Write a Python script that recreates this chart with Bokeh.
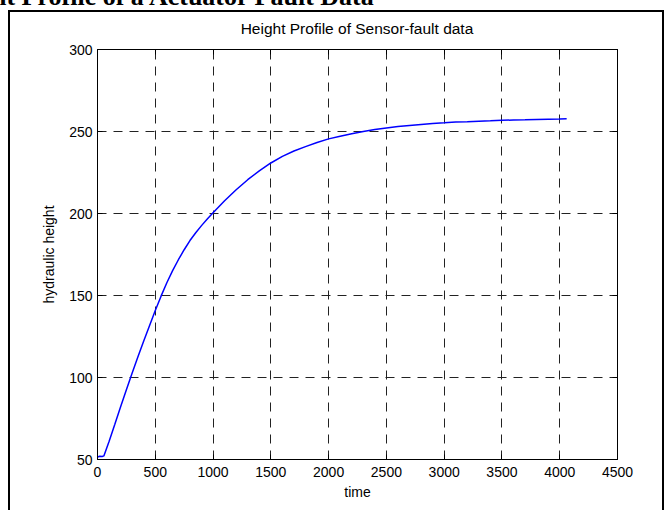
from bokeh.plotting import figure
from bokeh.models import (FixedTicker, LinearAxis, Range1d, Grid,
                          InlineStyleSheet, Div)
from bokeh.layouts import column
from bokeh.embed import file_html
from bokeh.resources import INLINE

# ---- data ----
time = [0, 20, 40, 55, 100, 150, 200, 250, 300, 350, 400, 450, 500, 550, 600,
        650, 700, 750, 800, 850, 900, 950, 1000, 1100, 1200, 1300, 1400, 1500,
        1600, 1700, 1800, 1900, 2000, 2100, 2200, 2300, 2400, 2500, 2600, 2700,
        2800, 2900, 3000, 3100, 3200, 3300, 3400, 3500, 3600, 3700, 3800, 3900,
        4000, 4060]
height = [51.5, 52.0, 51.8, 52.2, 61.0, 71.5, 82.2, 92.6, 102.8, 112.6, 122.2,
          131.6, 140.8, 149.6, 157.8, 165.2, 171.8, 177.9, 183.5, 188.3, 192.6,
          196.7, 200.5, 207.8, 214.5, 220.6, 226.0, 230.8, 234.8, 238.1, 240.8,
          243.3, 245.5, 247.1, 248.6, 250.0, 251.2, 252.2, 253.0, 253.7, 254.3,
          254.9, 255.3, 255.8, 256.0, 256.3, 256.5, 256.8, 257.0, 257.1, 257.3,
          257.5, 257.6, 257.7]
x_ticks = [0, 500, 1000, 1500, 2000, 2500, 3000, 3500, 4000, 4500]
y_ticks = [50, 100, 150, 200, 250, 300]

title_text = "Height Profile of Sensor-fault data"
header_text = "Height Profile of a Actuator Fault Data"
x_label = "time"
y_label = "hydraulic height"

W, H = 671, 510
FONT = "Liberation Sans"

# figure-window frame drawn around the axes (left, top, right sides)
css = """
:host::after {
  content: "";
  position: absolute;
  box-sizing: border-box;
  left: 8px; top: 10px; width: 656px; height: 500px;
  border: 2px solid black;
  border-bottom: none;
  pointer-events: none;
}
"""

p = figure(width=W, height=H, output_backend="svg", toolbar_location=None,
           x_range=Range1d(0, 4500), y_range=Range1d(50, 300),
           min_border_left=97, min_border_right=54, min_border_top=49,
           min_border_bottom=51,
           background_fill_color="white", border_fill_color="white",
           stylesheets=[InlineStyleSheet(css=css)])
p.xaxis.visible = False
p.yaxis.visible = False
p.outline_line_color = "black"
p.outline_line_width = 1

def style_axis(ax, labels=True):
    ax.major_tick_in = 5
    ax.major_tick_out = 0
    ax.minor_tick_in = 0
    ax.minor_tick_out = 0
    ax.axis_line_color = "black"
    ax.major_tick_line_color = "black"
    ax.major_label_text_font = FONT
    ax.major_label_text_font_size = "14px" if labels else "0px"
    ax.major_label_text_color = "black" if labels else None
    ax.axis_label_text_font = FONT
    ax.axis_label_text_font_size = "14px"
    ax.axis_label_text_font_style = "normal"
    ax.axis_label_text_color = "black"
    if not labels:
        ax.major_label_standoff = 0

xb = LinearAxis(ticker=FixedTicker(ticks=x_ticks), axis_label=x_label)
style_axis(xb)
xb.major_label_standoff = 7
xb.axis_label_standoff = 4
yl = LinearAxis(ticker=FixedTicker(ticks=y_ticks), axis_label=y_label)
style_axis(yl)
yl.major_label_standoff = 5
yl.axis_label_standoff = 9
xt = LinearAxis(ticker=FixedTicker(ticks=x_ticks))
style_axis(xt, labels=False)
yr = LinearAxis(ticker=FixedTicker(ticks=y_ticks))
style_axis(yr, labels=False)
p.add_layout(xb, "below")
p.add_layout(yl, "left")
p.add_layout(xt, "above")
p.add_layout(yr, "right")

p.xgrid.visible = False
p.ygrid.visible = False
gx = Grid(dimension=0, ticker=xb.ticker, grid_line_color="#222222",
          grid_line_dash="9 7", grid_line_width=1)
gy = Grid(dimension=1, ticker=yl.ticker, grid_line_color="#222222",
          grid_line_dash="9 7", grid_line_width=1)
p.add_layout(gx)
p.add_layout(gy)

p.line(time, height, line_color="#0000ff", line_width=1.5)

# axes title, centred over the plot frame
title_div = Div(
    text=('<div style="font-family:\'Liberation Sans\',Arial,sans-serif;'
          'font-size:15.5px;line-height:18px;white-space:nowrap;color:black;'
          'text-align:center;width:714px">' + title_text + '</div>'),
    width=714,
    styles={"position": "absolute", "left": "0px", "top": "20px",
            "z-index": "2", "margin": "0", "padding": "0"})

# caption of the surrounding document, cut off by the top edge
header = Div(
    text=('<span style="font-family:\'Liberation Serif\',\'Times New Roman\',serif;'
          'font-weight:bold;font-size:26px;line-height:26px;white-space:nowrap;'
          'color:black">' + header_text + '</span>'),
    styles={"position": "absolute", "left": "-60px", "top": "-16px",
            "z-index": "2", "margin": "0", "padding": "0"})

layout = column(p, title_div, header)
open("out.html", "w").write(file_html(layout, INLINE))
